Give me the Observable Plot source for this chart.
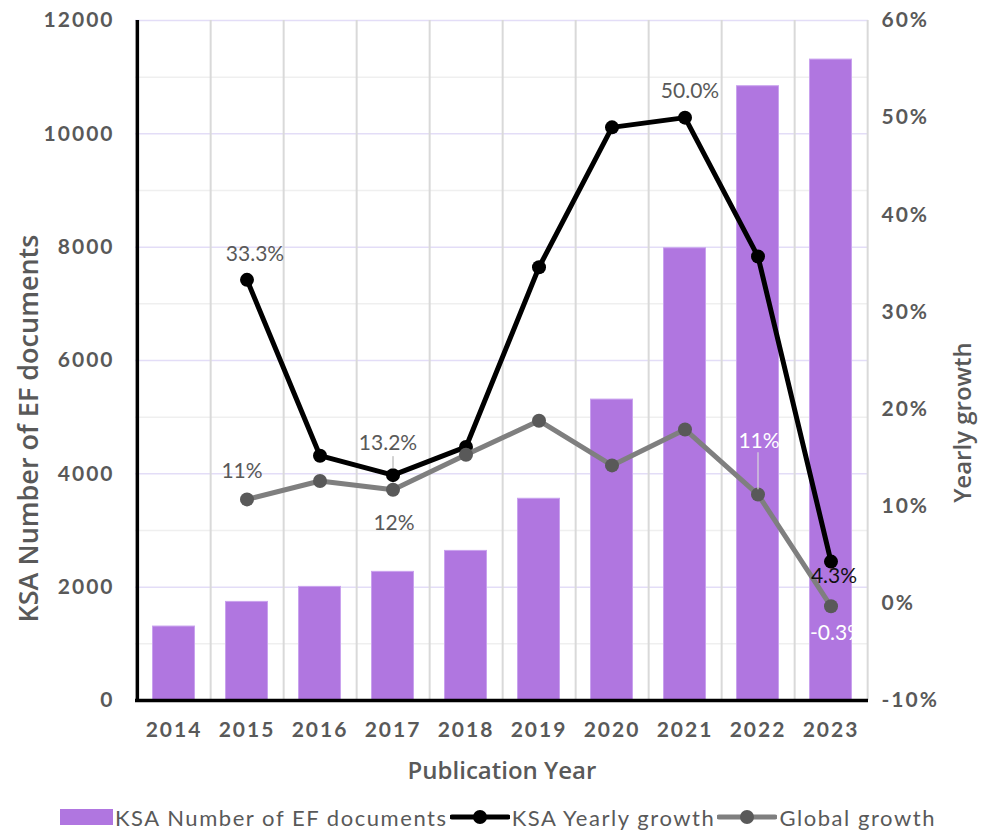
<!DOCTYPE html>
<html><head><meta charset="utf-8">
<script src="https://cdn.jsdelivr.net/npm/d3@7"></script>
<script src="https://cdn.jsdelivr.net/npm/@observablehq/plot@0.6"></script>
<style>
body{margin:0;background:#fff;font-family:Lato,"Open Sans",sans-serif;}
#legend{display:flex;justify-content:center;align-items:center;height:34px;color:#595959;font-size:22px;letter-spacing:1.55px;font-family:Lato,sans-serif;padding-left:6px;}
#legend .item{display:flex;align-items:center;margin-right:2px;}
#legend svg{margin-right:2px;}
g[aria-label="y-axis tick label"] text, g[aria-label="x-axis tick label"] text{letter-spacing:2px;}
g[aria-label="data label"] text{letter-spacing:1px;}
</style></head>
<body><div id="chart"></div><div id="legend"></div>
<script>
const years = [2014, 2015, 2016, 2017, 2018, 2019, 2020, 2021, 2022, 2023];
const docs = [1305, 1740, 2005, 2270, 2640, 3560, 5310, 7980, 10840, 11310];
const ksaGrowth = [null, 33.3, 15.2, 13.2, 16.1, 34.6, 49.0, 50.0, 35.7, 4.3];
const globalGrowth = [null, 10.7, 12.6, 11.7, 15.3, 18.8, 14.2, 17.9, 11.2, -0.3];
const leftTicks = [0, 2000, 4000, 6000, 8000, 10000, 12000];
const minorTicks = [1000, 3000, 5000, 7000, 9000, 11000];
const pctTicks = [-10, 0, 10, 20, 30, 40, 50, 60];
const ksaLabels = [
  {year: 2015, text: "33.3%"}, {year: 2017, text: "13.2%"},
  {year: 2021, text: "50.0%"}, {year: 2023, text: "4.3%"}
];
const globalLabels = [
  {year: 2015, text: "11%"}, {year: 2017, text: "12%"},
  {year: 2022, text: "11%"}, {year: 2023, text: "-0.3%"}
];
const seriesNames = ["KSA Number of EF documents", "KSA Yearly growth", "Global growth"];
const titles = {x: "Publication Year", yLeft: "KSA Number of EF documents", yRight: "Yearly growth"};

const barColor = "#B076E0";
const gray = "#595959";
// secondary axis (-10%..60%) mapped onto primary (0..12000)
const pMin = -10, pMax = 60, yMax = 12000;
const toY = p => (p - pMin) / (pMax - pMin) * yMax;

const rows = years.map((year, i) => ({year, docs: docs[i], ksa: ksaGrowth[i], glob: globalGrowth[i]}));
const ksaRows = rows.filter(d => d.ksa != null);
const globRows = rows.filter(d => d.glob != null);
const lab = (rowsSrc, key, l) => {
  const r = rowsSrc.find(d => d.year === l.year);
  return [{year: l.year, v: r[key], text: l.text}];
};

const W = 992, H = 800, mL = 135, mR = 124, mT = 20, mB = 100;
const bw = (W - mL - mR) / years.length;

const labelFont = {fontSize: 21, fontFamily: "Lato, sans-serif", ariaLabel: "data label"};
const tickFont = {fontSize: 21, fontWeight: "bold", fontFamily: "Lato, sans-serif", fill: gray};
const titleFont = {fontWeight: 600, fontFamily: "'Open Sans', sans-serif", fill: gray, textAnchor: "middle", lineAnchor: "middle"};

const chart = Plot.plot({
  width: W, height: H,
  marginLeft: mL, marginRight: mR, marginTop: mT, marginBottom: mB,
  style: {fontFamily: "Lato, sans-serif", background: "#fff", overflow: "visible"},
  x: {type: "band", domain: years, padding: 0},
  y: {domain: [0, yMax]},
  marks: [
    Plot.ruleY(minorTicks, {stroke: "#EFEFEF", strokeWidth: 1.5}),
    Plot.ruleY(leftTicks, {stroke: "#E3DDF7", strokeWidth: 1.5}),
    Plot.ruleX(years, {x: d => d, dx: bw / 2, stroke: "#D9D9D9", strokeWidth: 2}),
    Plot.barY(rows, {x: "year", y: "docs", fill: barColor, stroke: "#C9A2EE", strokeWidth: 1, insetLeft: 15.5, insetRight: 15.5}),
    Plot.ruleY([0], {stroke: "#000", strokeWidth: 3.5}),
    Plot.ruleX([years[0]], {x: d => d, dx: -bw / 2, stroke: "#000", strokeWidth: 3.5, y1: 0, y2: yMax}),
    Plot.line(ksaRows, {x: "year", y: d => toY(d.ksa), stroke: "#000", strokeWidth: 5}),
    Plot.dot(ksaRows, {x: "year", y: d => toY(d.ksa), fill: "#000", r: 7}),
    Plot.line(globRows, {x: "year", y: d => toY(d.glob), stroke: "#7F7F7F", strokeWidth: 5}),
    Plot.dot(globRows, {x: "year", y: d => toY(d.glob), fill: gray, r: 7}),
    // leader lines
    Plot.ruleX([{year: 2017, v: 13.2}], {x: "year", y1: d => toY(d.v + 0.6), y2: d => toY(d.v + 1.9), stroke: "#A6A6A6", strokeWidth: 1}),
    Plot.ruleX([{year: 2022, v: 11.2}], {x: "year", y1: d => toY(d.v + 0.5), y2: d => toY(d.v + 4.3), stroke: "#D9D9D9", strokeWidth: 1.2}),
    // KSA labels
    Plot.text(lab(ksaRows, "ksa", ksaLabels[0]), {x: "year", y: d => toY(d.v), text: "text", dx: 8, dy: -26, fill: gray, ...labelFont}),
    Plot.text(lab(ksaRows, "ksa", ksaLabels[1]), {x: "year", y: d => toY(d.v), text: "text", dx: -5, dy: -32, fill: gray, ...labelFont}),
    Plot.text(lab(ksaRows, "ksa", ksaLabels[2]), {x: "year", y: d => toY(d.v), text: "text", dx: 5, dy: -26, fill: gray, ...labelFont}),
    Plot.text(lab(ksaRows, "ksa", ksaLabels[3]), {x: "year", y: d => toY(d.v), text: "text", dx: 3, dy: 15, fill: "#111", ...labelFont}),
    // Global labels
    Plot.text(lab(globRows, "glob", globalLabels[0]), {x: "year", y: d => toY(d.v), text: "text", dx: -5, dy: -28, fill: gray, ...labelFont}),
    Plot.text(lab(globRows, "glob", globalLabels[1]), {x: "year", y: d => toY(d.v), text: "text", dx: 1, dy: 34, fill: gray, ...labelFont}),
    Plot.text(lab(globRows, "glob", globalLabels[2]), {x: "year", y: d => toY(d.v), text: "text", dx: 1, dy: -53, fill: "#fff", ...labelFont}),
    Plot.text(lab(globRows, "glob", globalLabels[3]), {x: "year", y: d => toY(d.v), text: "text", dx: 6, dy: 27, fill: "#fff", clip: true, ...labelFont}),
    // axes
    Plot.axisY(leftTicks, {anchor: "left", tickSize: 0, tickPadding: 21, label: null, tickFormat: d => String(d), ...tickFont}),
    Plot.axisY(pctTicks.map(toY), {anchor: "right", tickSize: 0, tickPadding: 13, label: null,
      tickFormat: d => Math.round(d / yMax * (pMax - pMin) + pMin) + "%", ...tickFont}),
    Plot.axisX(years, {anchor: "bottom", tickSize: 0, tickPadding: 22, label: null, tickFormat: d => String(d), ...tickFont}),
    Plot.text([titles.x], {frameAnchor: "bottom", dy: 71, text: d => d, fontSize: 24, ...titleFont}),
    Plot.text([titles.yLeft], {frameAnchor: "left", dx: -106, dy: 68, rotate: -90, text: d => d, fontSize: 27, ...titleFont}),
    Plot.text([titles.yRight], {frameAnchor: "right", dx: 95, dy: 62, rotate: -90, text: d => d, fontSize: 24, ...titleFont})
  ]
});
document.getElementById("chart").appendChild(chart);

// legend
const legend = d3.select("#legend");
const i0 = legend.append("div").attr("class", "item");
i0.append("svg").attr("width", 53).attr("height", 16).append("rect").attr("width", 53).attr("height", 16).attr("fill", barColor);
i0.append("span").text(seriesNames[0]);
[[seriesNames[1], "#000", "#000"], [seriesNames[2], "#7F7F7F", gray]].forEach(([name, lc, dc]) => {
  const it = legend.append("div").attr("class", "item");
  const s = it.append("svg").attr("width", 60).attr("height", 20);
  s.append("line").attr("x1", 2).attr("x2", 58).attr("y1", 10).attr("y2", 10).attr("stroke", lc).attr("stroke-width", 5).attr("stroke-linecap", "round");
  s.append("circle").attr("cx", 30).attr("cy", 10).attr("r", 7).attr("fill", dc);
  it.append("span").text(name);
});
</script>
</body></html>
